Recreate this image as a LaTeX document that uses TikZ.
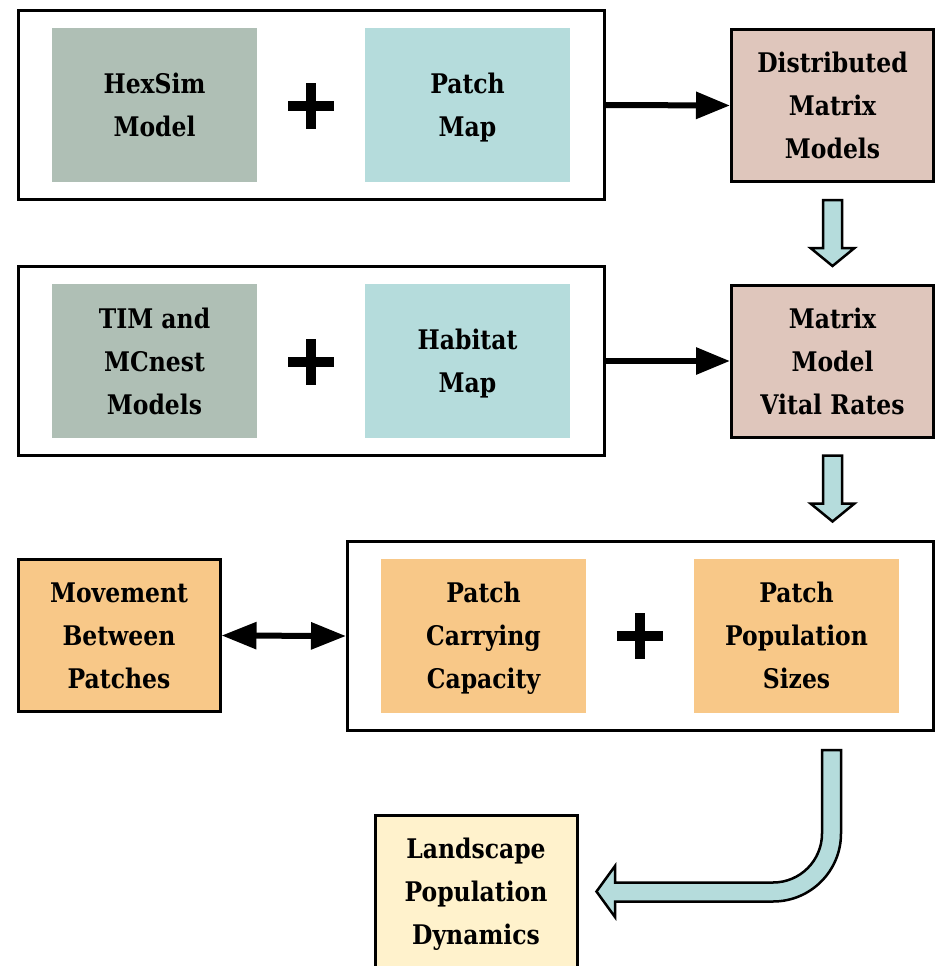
\documentclass[tikz,border=0pt]{standalone}
\usepackage{fontspec}
\setmainfont{DejaVu Serif}[FakeStretch=0.87]
\usetikzlibrary{arrows.meta,calc}
\definecolor{sage}{HTML}{AFBFB5}
\definecolor{teal}{HTML}{B5DCDC}
\definecolor{rose}{HTML}{DFC6BC}
\definecolor{apricot}{HTML}{F8C888}
\definecolor{cream}{HTML}{FFF2CC}
\tikzset{
  every node/.style={font=\bfseries\fontsize{27}{43}\selectfont, align=center, inner sep=0pt, text depth=0pt},
  groupbox/.style={draw=black, line width=3pt, fill=white, minimum width=586pt, minimum height=189pt},
  plainbox/.style={minimum width=205pt, minimum height=154pt},
  edgebox/.style={draw=black, line width=3pt, minimum width=202pt, minimum height=152pt},
  thickarrow/.style={line width=6pt, -{Triangle[length=34pt,width=26pt]}},
  dblarrow/.style={line width=6pt, {Triangle[length=35pt,width=26pt]}-{Triangle[length=35pt,width=26pt]}},
  hollow/.style={draw=black, line width=2.5pt, fill=teal, line join=miter},
  plussign/.pic={\fill[black] (-23,-5) rectangle (23,5); \fill[black] (-5,-23) rectangle (5,23);}
}
\begin{document}
\begin{tikzpicture}[x=1pt,y=-1pt]
\useasboundingbox (0,0) rectangle (936,966);

% row 1
\node[groupbox] (g1) at (311.5,105) {};
\node[plainbox, fill=sage] (hex) at (154.5,105) {HexSim\\Model};
\node[plainbox, fill=teal] (pmap) at (467.5,105) {Patch\\Map};
\pic at (311,105.5) {plussign};
\node[edgebox, fill=rose] (dmm) at (832.5,105.5) {Distributed\\Matrix\\Models};
\draw[thickarrow] (g1.east) -- (dmm.west);

% row 2
\node[groupbox] (g2) at (311.5,361) {};
\node[plainbox, fill=sage] (tim) at (154.5,361) {TIM and\\MCnest\\Models};
\node[plainbox, fill=teal] (hmap) at (467.5,361) {Habitat\\Map};
\pic at (311,361.5) {plussign};
\node[edgebox, fill=rose] (mmvr) at (832.5,361) {Matrix\\Model\\Vital Rates};
\draw[thickarrow] (g2.east) -- (mmvr.west);

% hollow down arrows
\path (dmm.south) ++(0,17) coordinate (d1);
\draw[hollow] (d1) ++(-9.5,0) -- ++(19,0) -- ++(0,48) -- ++(12.5,0) -- ++(-22,18) -- ++(-22,-18) -- ++(12.5,0) -- cycle;
\path (mmvr.south) ++(0,17) coordinate (d2);
\draw[hollow] (d2) ++(-9.5,0) -- ++(19,0) -- ++(0,48) -- ++(12.5,0) -- ++(-22,18) -- ++(-22,-18) -- ++(12.5,0) -- cycle;

% row 3
\node[groupbox] (g3) at (640.5,636) {};
\node[plainbox, fill=apricot] (pcc) at (483.5,635.5) {Patch\\Carrying\\Capacity};
\node[plainbox, fill=apricot] (pps) at (796.5,635.5) {Patch\\Population\\Sizes};
\pic at (640,636) {plussign};
\node[edgebox, fill=apricot] (mov) at (119,635.5) {Movement\\Between\\Patches};
\draw[dblarrow] (mov.east) -- (g3.west);

% final
\node[edgebox, fill=cream] (land) at (476,891.5) {Landscape\\Population\\Dynamics};

% curved hollow arrow
\draw[hollow] (822,750) -- (841,750) -- (841,833.5)
  .. controls (841,871.1) and (810.6,901.5) .. (773,901.5)
  -- (615,901.5) -- (615,917) -- (596.5,891.5) -- (615,866) -- (615,882.5)
  -- (773,882.5)
  .. controls (800.1,882.5) and (822,860.6) .. (822,833.5) -- cycle;
\end{tikzpicture}
\end{document}
